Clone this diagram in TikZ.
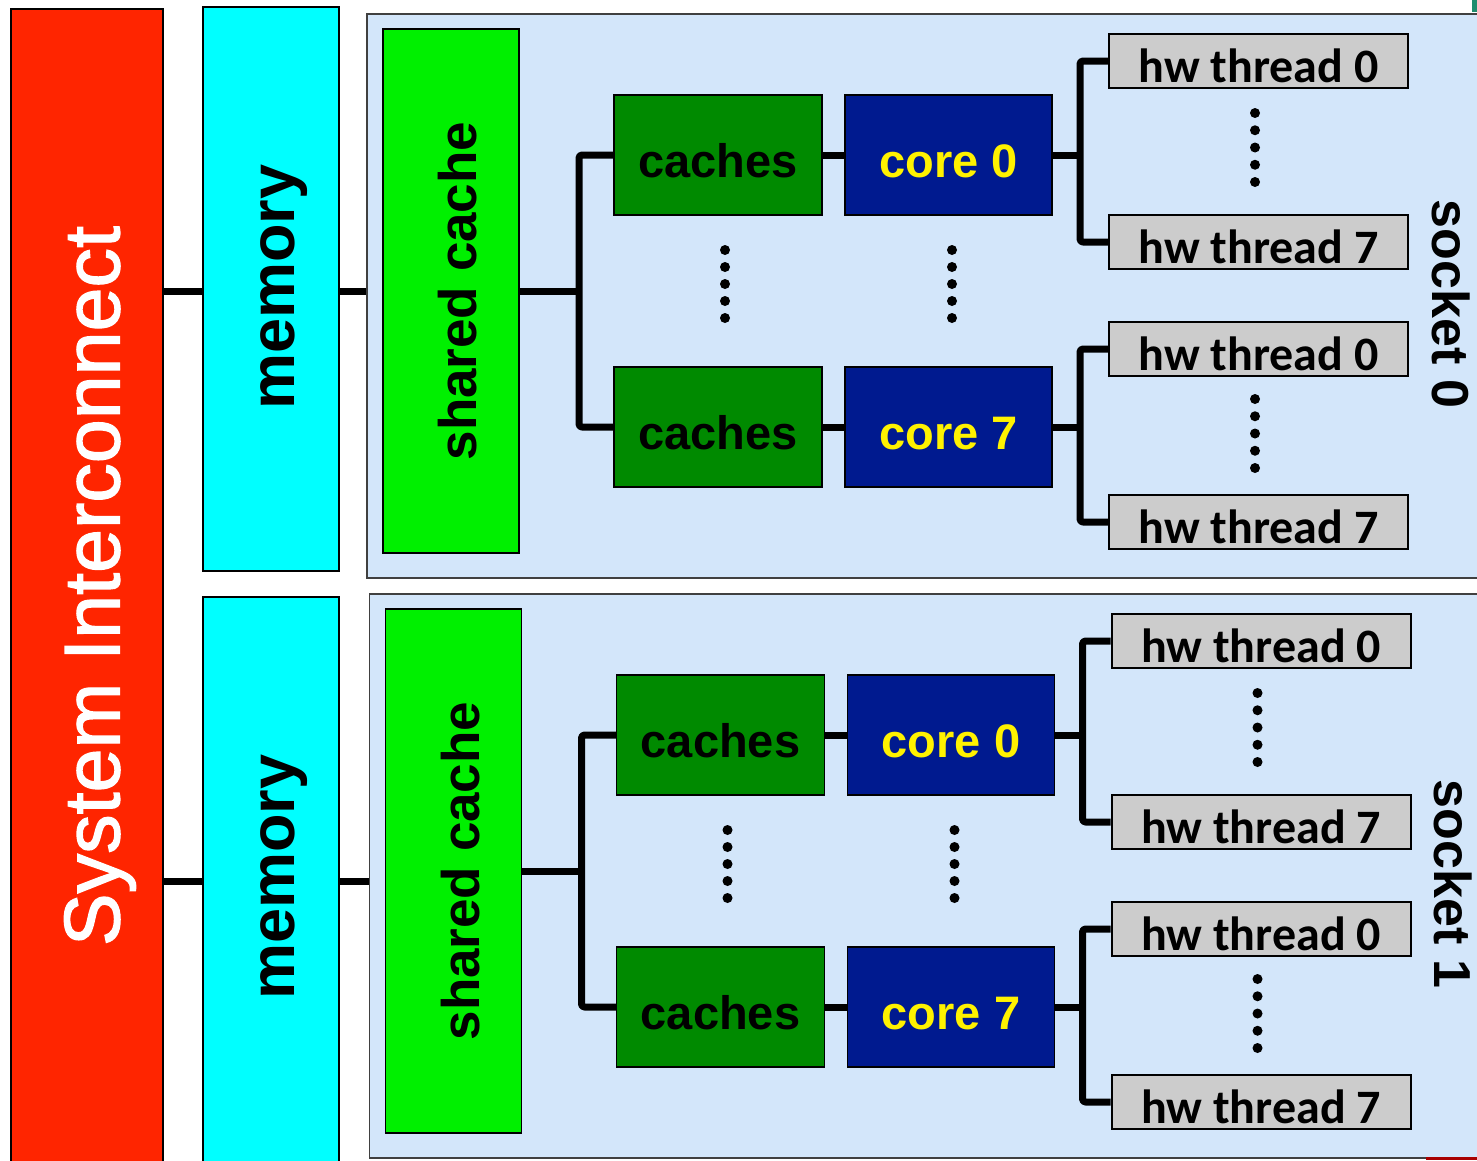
\documentclass[tikz,border=0pt]{standalone}
\usepackage{fontspec}
\setmainfont{Liberation Sans}
\newfontfamily\calfont{Carlito}
\newfontfamily\medfont[FakeBold=1.6]{Liberation Sans}
\definecolor{icred}{HTML}{FF2500}
\definecolor{memcyan}{HTML}{00FFFF}
\definecolor{scgreen}{HTML}{00F000}
\definecolor{cagreen}{HTML}{008A00}
\definecolor{coreblue}{HTML}{001A8F}
\definecolor{hwgray}{HTML}{CCCCCC}
\definecolor{sockblue}{HTML}{D3E6FA}
\definecolor{teal1}{HTML}{1E8C6E}
\definecolor{darkred1}{HTML}{A80000}
\tikzset{
  box/.style={draw=black, line width=1.5pt, rectangle, inner sep=0pt},
  sockbox/.style={draw=black!75, line width=1.5pt, fill=sockblue, rectangle, inner sep=0pt},
  cachebox/.style={box, fill=cagreen, minimum width=208pt, minimum height=120pt, text=black, text height=44pt, text depth=0pt, font=\bfseries\fontsize{47}{50}\selectfont},
  corebox/.style={box, fill=coreblue, minimum width=207pt, minimum height=120pt, text=yellow, text height=44pt, text depth=0pt, font=\bfseries\fontsize{47}{50}\selectfont},
  hwbox/.style={box, line width=2pt, fill=hwgray, minimum width=299pt, minimum height=54pt, text=black, text height=43pt, text depth=0pt, font=\calfont\bfseries\fontsize{48}{50}\selectfont},
  conn/.style={draw=black, line width=7pt, line join=round, rounded corners=3pt},
  vlabel/.style={inner sep=0pt, font=\bfseries\fontsize{#1}{#1}\selectfont},
}
\newcommand\dotcol[3]{\foreach \k in {0,...,4} {\fill (#1,{#2+(#3-#2)*\k/4}) circle (5pt);}}
\newcommand\socketpart[4]{%
\begin{scope}[shift={(#2,#3)}]
\node[sockbox, anchor=north west, minimum width=1200pt, minimum height=564pt] (sock#1) at (366,13) {};
\node[box, fill=scgreen, minimum width=136pt, minimum height=524pt] (sc#1) at (451,291) {};
\node[vlabel=53, rotate=90] (sct#1) at (458,291) {shared cache};
\node[cachebox] (caA#1) at (718,155) {caches};
\node[cachebox] (caB#1) at (718,427) {caches};
\node[corebox] (coA#1) at (948.5,155) {core 0};
\node[corebox] (coB#1) at (948.5,427) {core 7};
\node[hwbox] (hwA#1) at (1258.5,61) {hw thread 0};
\node[hwbox] (hwB#1) at (1258.5,242) {hw thread 7};
\node[hwbox] (hwC#1) at (1258.5,349) {hw thread 0};
\node[hwbox] (hwD#1) at (1258.5,522) {hw thread 7};
\coordinate (br#1) at (579,291);
\coordinate (tA#1) at (1080,155);
\coordinate (tB#1) at (1080,427);
\draw[conn] (sc#1.east) -- (br#1);
\draw[conn] (caA#1.west) -| (br#1) |- (caB#1.west);
\draw[conn] (caA#1.east) -- (coA#1.west);
\draw[conn] (caB#1.east) -- (coB#1.west);
\draw[conn] (coA#1.east) -- (tA#1);
\draw[conn] (hwA#1.west) -| (tA#1) |- (hwB#1.west);
\draw[conn] (coB#1.east) -- (tB#1);
\draw[conn] (hwC#1.west) -| (tB#1) |- (hwD#1.west);
\dotcol{725}{250}{318}
\dotcol{952}{250}{318}
\dotcol{1255}{113}{182}
\dotcol{1255}{399}{468}
\node[vlabel=52, rotate=-90] (lab#1) at (1451,304) {#4};
\end{scope}}
\begin{document}
\begin{tikzpicture}[x=1pt, y=-1pt]
\useasboundingbox (0,0) rectangle (1477,1160);
\fill[white] (0,0) rectangle (1477,1160);
% system interconnect
\node[box, fill=icred, anchor=north west, minimum width=152pt, minimum height=1170pt] (ic) at (10,8) {};
\node[rotate=90, inner sep=0pt, text=white, font=\medfont\fontsize{79}{80}\selectfont] (ict) at (100,586) {System Interconnect};
% memories
\node[box, fill=memcyan, anchor=north west, minimum width=136pt, minimum height=564pt] (mem0) at (202,6) {};
\node[box, fill=memcyan, anchor=north west, minimum width=136pt, minimum height=570pt] (mem1) at (202,596) {};
\node[vlabel=63, rotate=90] (memt0) at (284,287) {memory};
\node[vlabel=63, rotate=90] (memt1) at (284,877) {memory};
% sockets
\socketpart{0}{0}{0}{socket 0}
\socketpart{1}{2.5}{580}{socket 1}
% links between interconnect, memory, sockets
\coordinate (y0) at (0,291);
\coordinate (y1) at (0,881);
\draw[conn] (ic.east |- y0) -- (mem0.west |- y0);
\draw[conn] (mem0.east |- y0) -- (sock0.west |- y0);
\draw[conn] (ic.east |- y1) -- (mem1.west |- y1);
\draw[conn] (mem1.east |- y1) -- (sock1.west |- y1);
% cropped fragments at the edges
\fill[teal1] (1472,0) rectangle (1477,12);
\fill[darkred1] (1426,1157) rectangle (1477,1160);
\end{tikzpicture}
\end{document}
